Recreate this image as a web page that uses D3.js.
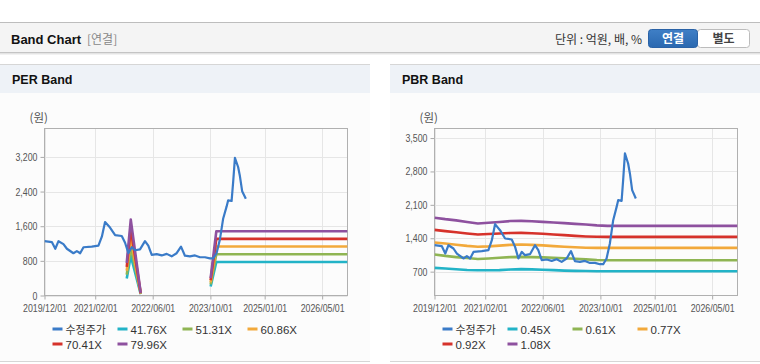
<!DOCTYPE html>
<html><head><meta charset="utf-8">
<script src="https://cdn.jsdelivr.net/npm/d3@7"></script>
<style>
html,body{margin:0;padding:0;background:#fff;}
svg{display:block;}
text{font-family:"Liberation Sans",Arial,sans-serif;}
.kr{font-family:"Noto Sans CJK KR","Liberation Sans",sans-serif;}
</style></head>
<body>
<script>
// ---------------- data ----------------
const priceDates = ["2019-12-01","2020-02-01","2020-03-01","2020-03-28","2020-05-09","2020-06-07","2020-08-01","2020-08-30","2020-09-27","2020-10-25","2021-01-03","2021-02-28","2021-03-29","2021-04-25","2021-06-06","2021-07-19","2021-09-13","2021-10-11","2021-11-08","2021-12-06","2022-01-03","2022-02-14","2022-03-28","2022-04-25","2022-05-24","2022-07-05","2022-08-16","2022-09-27","2022-11-08","2022-12-20","2023-01-26","2023-02-28","2023-04-11","2023-05-24","2023-07-05","2023-08-16","2023-09-27","2023-10-25","2023-11-22","2023-12-20","2024-01-17","2024-02-15","2024-02-28","2024-03-28","2024-04-10","2024-04-25","2024-05-22","2024-06-06","2024-06-25","2024-07-26"];
const priceValues = [1254,1234,1080,1254,1185,1080,976,1024,976,1114,1129,1150,1359,1695,1569,1395,1374,1219,976,1114,1045,1066,1254,1150,940,955,925,961,904,976,1129,919,904,925,883,883,856,856,976,1290,1779,2057,2198,2183,2617,3177,2967,2758,2408,2233];

const xTickLabels = ["2019/12/01","2021/02/01","2022/06/01","2023/10/01","2025/01/01","2026/05/01"];
const xDomain = ["2019-12-01","2026-12-01"];

// PER band
const perBandNames = ["41.76X","51.31X","60.86X","70.41X","79.96X"];
const perBandDates = ["2021-10-25","2021-11-28","2022-02-20","2022-03-01","2023-10-03","2023-11-20","2026-12-01"];
const per4176 = [393, 915, 31, null, 209, 775, 775];
const per5131 = [482, 1124, 38, null, 257, 952, 952];
const per6086 = [572, 1333, 46, null, 304, 1130, 1130];
const per7041 = [662, 1542, 53, null, 352, 1307, 1307];
const per7996 = [752, 1751, 60, null, 400, 1484, 1484];
const perYTicks = [0, 800, 1600, 2400, 3200];
const perYDomain = [0, 3856];

// PBR band
const pbrBandNames = ["0.45X","0.61X","0.77X","0.92X","1.08X"];
const pbrBandDates = ["2019-12-01","2020-03-01","2020-06-01","2020-09-01","2020-12-01","2021-03-01","2021-06-01","2021-09-01","2021-12-01","2022-03-01","2022-06-01","2022-09-01","2022-12-01","2023-03-01","2023-06-01","2023-09-01","2023-12-01","2026-12-01"];
const pbr045 = [779,765,750,735,728,728,732,745,752,748,740,732,722,716,712,709,709,709];
const pbr061 = [1060,1030,1005,985,965,975,990,1005,1010,1005,998,990,980,970,958,945,940,940];
const pbr077 = [1311,1290,1265,1240,1222,1230,1245,1262,1270,1260,1250,1235,1222,1210,1200,1198,1198,1198];
const pbr092 = [1575,1550,1525,1500,1480,1490,1500,1510,1512,1505,1495,1480,1465,1450,1438,1430,1428,1428];
const pbr108 = [1830,1800,1775,1740,1710,1725,1740,1760,1765,1755,1743,1730,1716,1702,1688,1670,1659,1659];
const pbrYTicks = [700, 1400, 2100, 2800, 3500];
const pbrYDomain = [200, 3700];

const priceName = "수정주가";
const colors = ["#3a7bc8","#22b3c7","#8fb553","#f2a93b","#d6322b","#8e519f"];

// ---------------- drawing ----------------
const W = 760, H = 364;
const parse = d3.timeParse("%Y-%m-%d");
const svg = d3.select("body").append("svg").attr("width", W).attr("height", H);
const SX = 0.8; // horizontal squeeze of axis labels

// top header
svg.append("rect").attr("x",0).attr("y",22).attr("width",W).attr("height",31).attr("fill","#f4f4f4");
svg.append("line").attr("x1",0).attr("x2",W).attr("y1",22.5).attr("y2",22.5).attr("stroke","#bdbdbd");
svg.append("line").attr("x1",0).attr("x2",W).attr("y1",52.5).attr("y2",52.5).attr("stroke","#c4c4c4");
svg.append("line").attr("x1",0).attr("x2",W).attr("y1",53.5).attr("y2",53.5).attr("stroke","#e4e4e4");
svg.append("line").attr("x1",0).attr("x2",W).attr("y1",54.5).attr("y2",54.5).attr("stroke","#f2f2f2");
svg.append("text").attr("x",11).attr("y",44).attr("font-size",13).attr("font-weight","bold").attr("fill","#111").text("Band Chart");
svg.append("text").attr("class","kr").attr("x",87).attr("y",44).attr("font-size",12).attr("fill","#888").text("[연결]");
svg.append("text").attr("class","kr").attr("x",642).attr("y",43.5).attr("text-anchor","end").attr("font-size",12).attr("fill","#333").text("단위 : 억원, 배, %");
// buttons
const defs = svg.append("defs");
const g1 = defs.append("linearGradient").attr("id","btnBlue").attr("x1",0).attr("x2",0).attr("y1",0).attr("y2",1);
g1.append("stop").attr("offset","0%").attr("stop-color","#3f7fc6");
g1.append("stop").attr("offset","100%").attr("stop-color","#2a68b0");
svg.append("rect").attr("x",697.5).attr("y",29.5).attr("width",52).attr("height",18).attr("rx",3).attr("fill","#fff").attr("stroke","#bcbcbc");
svg.append("rect").attr("x",648.5).attr("y",29.5).attr("width",49).attr("height",18).attr("rx",3).attr("fill","url(#btnBlue)").attr("stroke","#2a62a6");
svg.append("text").attr("class","kr").attr("x",673).attr("y",43).attr("text-anchor","middle").attr("font-size",12).attr("font-weight","bold").attr("fill","#fff").text("연결");
svg.append("text").attr("class","kr").attr("x",723.5).attr("y",43).attr("text-anchor","middle").attr("font-size",12).attr("font-weight","bold").attr("fill","#444").text("별도");

function panel(px, title, yDomain, yTicks, bandDates, bands, bandNames) {
  const g = svg.append("g").attr("transform", `translate(${px},0)`);
  const pw = 370;
  g.append("rect").attr("x",0).attr("y",64).attr("width",pw).attr("height",297).attr("fill","#fcfcfc");
  g.append("rect").attr("x",0).attr("y",64).attr("width",pw).attr("height",29).attr("fill","#eef2f7");
  g.append("line").attr("x1",0).attr("x2",pw).attr("y1",64.5).attr("y2",64.5).attr("stroke","#d6d6d6");
  g.append("line").attr("x1",0).attr("x2",pw).attr("y1",361.5).attr("y2",361.5).attr("stroke","#d6d6d6");
  g.append("text").attr("x",12).attr("y",84).attr("font-size",12.5).attr("font-weight","bold").attr("fill","#111").text(title);

  const L = 44.5, R = 347.5, T = 128.5, B = 295.5;
  const x = d3.scaleTime().domain(xDomain.map(parse)).range([L, R]);
  const y = d3.scaleLinear().domain(yDomain).range([B, T]);
  const xTicks = xTickLabels.map(s => d3.timeParse("%Y/%m/%d")(s));

  // grid
  g.append("g").selectAll("line").data(xTicks).join("line")
    .attr("x1", d => Math.round(x(d)) + 0.5).attr("x2", d => Math.round(x(d)) + 0.5)
    .attr("y1", T).attr("y2", B).attr("stroke", "#e6e6e6");
  g.append("g").selectAll("line").data(yTicks).join("line")
    .attr("x1", L).attr("x2", R)
    .attr("y1", d => Math.round(y(d)) + 0.5).attr("y2", d => Math.round(y(d)) + 0.5).attr("stroke", "#e6e6e6");

  // axes
  const yAxis = d3.axisLeft(y).tickValues(yTicks).tickSize(4).tickPadding(3).tickFormat(d3.format(","));
  const ya = g.append("g").attr("transform", `translate(${L},0)`).call(yAxis);
  const xAxis = d3.axisBottom(x).tickValues(xTicks).tickSize(4).tickPadding(5).tickFormat(d3.timeFormat("%Y/%m/%d"));
  const xa = g.append("g").attr("transform", `translate(0,${B})`).call(xAxis);
  [ya, xa].forEach(a => {
    a.select(".domain").remove();
    a.selectAll(".tick line").attr("stroke", "#aaa");
    a.selectAll(".tick text").attr("fill", "#555").attr("font-size", 11);
  });
  ya.selectAll(".tick text").attr("x", -7 / SX).attr("transform", `scale(${SX},1)`);
  xa.selectAll(".tick text").attr("transform", `scale(${SX},1)`);
  g.append("rect").attr("x", L).attr("y", T).attr("width", R - L).attr("height", B - T)
    .attr("fill", "none").attr("stroke", "#b0b0b0");
  g.append("text").attr("class","kr").attr("x", L - 15).attr("y", 122).attr("font-size", 11.5).attr("fill", "#555").text("(원)");

  const clip = "clip" + px;
  defs.append("clipPath").attr("id", clip).append("rect").attr("x", L).attr("y", T).attr("width", R - L).attr("height", B - T);
  const plot = g.append("g").attr("clip-path", `url(#${clip})`);

  const bd = bandDates.map(parse);
  const line = d3.line().defined(d => d[1] != null).x(d => x(d[0])).y(d => y(d[1]));
  bands.forEach((vals, i) => {
    plot.append("path").datum(vals.map((v, j) => [bd[j], v]))
      .attr("d", line).attr("fill", "none").attr("stroke", colors[i + 1])
      .attr("stroke-width", 2.6).attr("stroke-linejoin", "round");
  });
  plot.append("path").datum(priceValues.map((v, j) => [parse(priceDates[j]), v]))
    .attr("d", line).attr("fill", "none").attr("stroke", colors[0])
    .attr("stroke-width", 2.2).attr("stroke-linejoin", "round");

  // legend
  const names = [priceName].concat(bandNames);
  const lg = g.append("g");
  names.forEach((n, i) => {
    const col = i < 4 ? i : i - 4;
    const row = i < 4 ? 0 : 1;
    const lx = L + 8 + col * 65, ly = 329 + row * 15;
    lg.append("line").attr("x1", lx).attr("x2", lx + 10).attr("y1", ly).attr("y2", ly)
      .attr("stroke", colors[i]).attr("stroke-width", 3);
    lg.append("text").attr("class", i === 0 ? "kr" : null).attr("x", lx + 13).attr("y", ly + 4.5)
      .attr("font-size", i === 0 ? 11 : 11.5).attr("fill", "#333").text(n);
  });
}

panel(0, "PER Band", perYDomain, perYTicks, perBandDates, [per4176, per5131, per6086, per7041, per7996], perBandNames);
panel(390, "PBR Band", pbrYDomain, pbrYTicks, pbrBandDates, [pbr045, pbr061, pbr077, pbr092, pbr108], pbrBandNames);
</script>
</body></html>
